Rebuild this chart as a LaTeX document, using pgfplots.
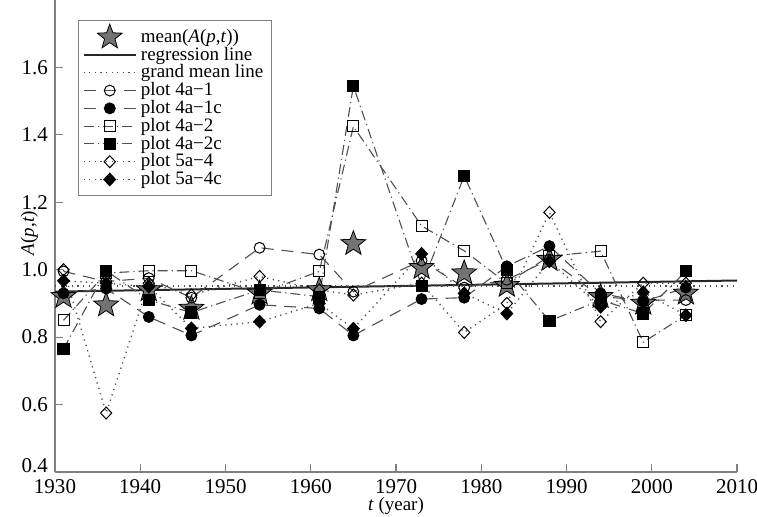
\documentclass[border=0pt]{standalone}
\usepackage{fontspec}
\setmainfont{Liberation Serif}
\usepackage{pgfplots}
\pgfplotsset{compat=1.18}
\usetikzlibrary{plotmarks}

% filled five-pointed star mark
\pgfdeclareplotmark{fstar}{%
  \pgfpathmoveto{\pgfpointpolar{90}{\pgfplotmarksize}}%
  \pgfpathlineto{\pgfpointpolar{126}{0.42\pgfplotmarksize}}%
  \pgfpathlineto{\pgfpointpolar{162}{\pgfplotmarksize}}%
  \pgfpathlineto{\pgfpointpolar{198}{0.42\pgfplotmarksize}}%
  \pgfpathlineto{\pgfpointpolar{234}{\pgfplotmarksize}}%
  \pgfpathlineto{\pgfpointpolar{270}{0.42\pgfplotmarksize}}%
  \pgfpathlineto{\pgfpointpolar{306}{\pgfplotmarksize}}%
  \pgfpathlineto{\pgfpointpolar{342}{0.42\pgfplotmarksize}}%
  \pgfpathlineto{\pgfpointpolar{18}{\pgfplotmarksize}}%
  \pgfpathlineto{\pgfpointpolar{54}{0.42\pgfplotmarksize}}%
  \pgfpathclose
  \pgfusepathqfillstroke}

\definecolor{linegray}{RGB}{80,80,80}
\definecolor{stargray}{RGB}{115,115,115}

\tikzset{
  dashline/.style={linegray, line width=0.55pt, dash pattern=on 6pt off 4pt},
  dotdash/.style={linegray, line width=0.55pt, dash pattern=on 5pt off 2pt on 0.6pt off 2pt},
  dotline/.style={linegray, line width=0.7pt, dash pattern=on 0.6pt off 2.2pt},
}

\begin{document}
\begin{tikzpicture}
\begin{axis}[
  name=ax,
  scale only axis,
  width=341pt, height=236pt,
  xmin=1930, xmax=2010,
  ymin=0.4, ymax=1.8,
  axis lines*=left,
  axis line style={gray, line width=0.8pt},
  tick style={gray, line width=0.6pt},
  major tick length=4pt,
  xtick={1930,1940,...,2010},
  ytick={0.6,0.8,...,1.6},
  extra y ticks={0.4},
  extra y tick style={yticklabel style={yshift=3pt}},
  tick label style={font=\fontsize{10.5}{12}\selectfont},
  label style={font=\fontsize{9.5}{11}\selectfont},
  /pgf/number format/assume math mode=true,
  x tick label style={/pgf/number format/1000 sep={}},
  y tick label style={/pgf/number format/fixed, /pgf/number format/fixed zerofill,
    /pgf/number format/precision=1},
  xlabel={\textit{t} (year)},
  ylabel={\textit{A}(\textit{p},\textit{t})},
  xlabel style={yshift=5pt},
  ylabel style={yshift=-15pt, xshift=1.5pt},
  legend style={at={(0.034,0.958)}, anchor=north west, draw=gray,
    font=\fontsize{9.5}{10}\selectfont, row sep=-3.2pt, inner sep=2pt,
    cells={anchor=west}},
  legend image code/.code={%
    \draw[mark repeat=2,mark phase=2] plot coordinates {(0cm,0cm) (0.46cm,0cm) (0.92cm,0cm)};},
]
% mean
\addplot[only marks, mark=fstar, mark size=6.5pt, mark options={fill=stargray, draw=black, line width=0.4pt}]
  coordinates {(1931,0.920) (1936,0.895) (1941,0.940) (1946,0.885) (1954,0.930) (1961,0.940) (1965,1.077)
               (1973,1.006) (1978,0.990) (1983,0.953) (1988,1.030) (1994,0.920) (1999,0.900) (2004,0.930)};
\addlegendentry{mean(\textit{A}(\textit{p},\textit{t}))}
% regression line
\addplot[black!85, line width=1pt] coordinates {(1930,0.935) (2010,0.968)};
\addlegendentry{regression line}
% grand mean line
\addplot[dotline] coordinates {(1930,0.952) (2010,0.952)};
\addlegendentry{grand mean line}
% plot 4a-1
\addplot[dashline, mark=o, mark size=2.7pt, mark options={solid, black, line width=0.5pt}]
  coordinates {(1931,0.995) (1936,0.965) (1941,0.975) (1946,0.917) (1954,1.065) (1961,1.045) (1965,0.935)
               (1973,1.027) (1978,0.947) (1983,0.970) (1988,1.030) (1994,0.920) (1999,0.910) (2004,0.910)};
\addlegendentry{plot 4a\textminus 1}
% plot 4a-1c
\addplot[dashline, mark=*, mark size=2.7pt, mark options={solid, black}]
  coordinates {(1931,0.930) (1936,0.944) (1941,0.860) (1946,0.805) (1954,0.896) (1961,0.885) (1965,0.805)
               (1973,0.913) (1978,0.917) (1983,1.010) (1988,1.070) (1994,0.930) (1999,0.905) (2004,0.947)};
\addlegendentry{plot 4a\textminus 1c}
% plot 4a-2
\addplot[dotdash, mark=square, mark size=2.75pt, mark options={solid, black, line width=0.5pt}]
  coordinates {(1931,0.850) (1936,0.990) (1941,0.997) (1946,0.997) (1954,0.930) (1961,0.995) (1965,1.425)
               (1973,1.130) (1978,1.056) (1983,0.960) (1988,1.040) (1994,1.055) (1999,0.785) (2004,0.865)};
\addlegendentry{plot 4a\textminus 2}
% plot 4a-2c
\addplot[dotdash, mark=square*, mark size=2.75pt, mark options={solid, black}]
  coordinates {(1931,0.765) (1936,0.997) (1941,0.910) (1946,0.873) (1954,0.940) (1961,0.920) (1965,1.545)
               (1973,0.953) (1978,1.278) (1983,1.000) (1988,0.848) (1994,0.910) (1999,0.870) (2004,0.995)};
\addlegendentry{plot 4a\textminus 2c}
% plot 5a-4
\addplot[dotline, mark=diamond, mark size=3pt, mark options={solid, black, line width=0.5pt, xscale=1.25}]
  coordinates {(1931,1.000) (1936,0.575) (1941,0.960) (1946,0.925) (1954,0.980) (1961,0.940) (1965,0.925)
               (1973,0.960) (1978,0.814) (1983,0.900) (1988,1.170) (1994,0.846) (1999,0.960) (2004,0.960)};
\addlegendentry{plot 5a\textminus 4}
% plot 5a-4c
\addplot[dotline, mark=diamond*, mark size=3pt, mark options={solid, black, xscale=1.25}]
  coordinates {(1931,0.967) (1936,0.960) (1941,0.950) (1946,0.826) (1954,0.846) (1961,0.900) (1965,0.825)
               (1973,1.047) (1978,0.930) (1983,0.870) (1988,1.025) (1994,0.890) (1999,0.933) (2004,0.865)};
\addlegendentry{plot 5a\textminus 4c}
\end{axis}
\pgfresetboundingbox
\path[use as bounding box] ([shift={(-27.5pt,-22.5pt)}]ax.south west)
  rectangle ([shift={(10pt,0pt)}]ax.north east);
\end{tikzpicture}
\end{document}
